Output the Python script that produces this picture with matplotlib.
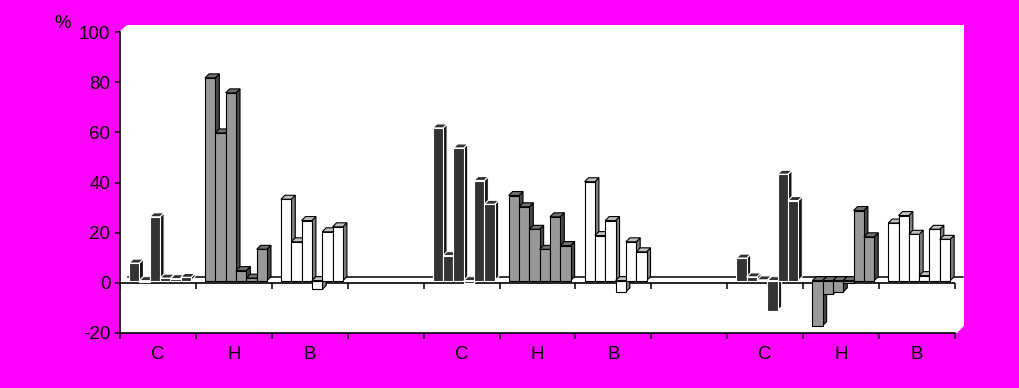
import matplotlib.pyplot as plt
from matplotlib.patches import Polygon
from matplotlib.transforms import offset_copy

plt.rcParams['font.family'] = ['Liberation Sans', 'DejaVu Sans']

# Data: three runs, each with C / H / B groups of six bars (%)
slot_labels = ['C', 'H', 'B', '', 'C', 'H', 'B', '', 'C', 'H', 'B']

c_run1 = [7, -0.5, 25.5, 1.0, 0.8, 1.3]
h_run1 = [81, 59, 75, 4, 1, 12.5]
b_run1 = [32.5, 15.5, 24, -3.5, 19.5, 21.5]

c_run2 = [61, 10, 53, -1, 40, 30.5]
h_run2 = [34, 29.5, 20.5, 12.5, 25.5, 14]
b_run2 = [39.5, 18, 24, -4.5, 15.5, 11.5]

c_run3 = [9, 1.5, 0.3, -12, 42.5, 32]
h_run3 = [-18, -5.5, -4.5, -1, 28, 17.5]
b_run3 = [23, 26, 18.5, 2, 20.5, 16.5]

yticks = [-20, 0, 20, 40, 60, 80, 100]

# colours: front, side, top, edge
styles = {
    'C': ('#333333', '#141414', '#333333', 'white'),
    'H': ('#999999', '#474747', '#6e6e6e', 'black'),
    'B': ('#ffffff', '#808080', '#c0c0c0', 'black'),
}

W, H = 1020, 388
def fx(px):
    return px / W
def fy(py):
    return (H - py) / H

fig = plt.figure(figsize=(10.2, 3.88), dpi=100, facecolor='#ff00ff')

# white backdrop (chart walls)
wall = [(120, 333), (120, 31), (127, 25), (964, 25), (964, 326), (957, 333)]
fig.patches.append(Polygon([(fx(a), fy(b)) for a, b in wall], closed=True,
                           transform=fig.transFigure, facecolor='white',
                           edgecolor='none', zorder=-1))

ax = fig.add_axes([fx(120), fy(332.7), fx(955) - fx(120), fy(32.3) - fy(332.7)])
ax.set_facecolor('none')
ax.set_zorder(1)

# bar geometry (category units / % units)
w = 0.136
start = 0.12
DX, DY = 0.053, 1.6
bar_tr = offset_copy(ax.transData, fig=fig, x=0, y=2, units='dots')

groups = [(0, c_run1, 'C'), (1, h_run1, 'H'), (2, b_run1, 'B'),
          (4, c_run2, 'C'), (5, h_run2, 'H'), (6, b_run2, 'B'),
          (8, c_run3, 'C'), (9, h_run3, 'H'), (10, b_run3, 'B')]

# floor lines
back_tr = offset_copy(ax.transData, fig=fig, x=8, y=6, units='dots')
ax.plot([0, 11], [0, 0], color='black', lw=1.1, transform=back_tr,
        clip_on=False, zorder=2)
ax.axhline(0, color='black', lw=1.2, zorder=1.5)
ax.plot(range(12), [0] * 12, ls='none', marker=3, ms=4, color='black',
        mew=1.1, clip_on=False, zorder=1.5)

z = 3
for slot, vals, key in groups:
    front, side, top, edge = styles[key]
    for i, v in enumerate(vals):
        x0 = slot + start + i * w
        x1 = x0 + w
        lo, hi = min(0, v), max(0, v)
        ax.add_patch(Polygon([(x1, lo), (x1 + DX, lo + DY), (x1 + DX, hi + DY), (x1, hi)],
                             facecolor=side, edgecolor=edge, lw=0.8,
                             transform=bar_tr, zorder=z))
        ax.add_patch(Polygon([(x0, hi), (x1, hi), (x1 + DX, hi + DY), (x0 + DX, hi + DY)],
                             facecolor=top, edgecolor=edge, lw=0.8,
                             transform=bar_tr, zorder=z))
        ax.bar(x0, v, width=w, align='edge', color=front, edgecolor=edge,
               lw=0.8, transform=bar_tr, zorder=z + 0.001)
        z += 0.01

ax.set_xlim(0, 11)
ax.set_ylim(-20, 100)

ax.spines['top'].set_visible(False)
ax.spines['right'].set_visible(False)
ax.spines['left'].set_linewidth(1.2)
ax.spines['bottom'].set_linewidth(1.2)

ax.set_yticks(yticks)
ax.set_yticklabels([str(t) for t in yticks])
ax.tick_params(axis='y', direction='out', length=3.6, width=1.1, pad=3.4,
               labelsize=13.5)

ax.set_xticks(range(12))
ax.set_xticklabels([''] * 12)
ax.set_xticks([i + 0.5 for i in range(11)], minor=True)
ax.set_xticklabels(slot_labels, minor=True)
ax.tick_params(axis='x', which='major', direction='out', length=4.3, width=1.1)
ax.tick_params(axis='x', which='minor', length=0, pad=9.5, labelsize=13.5)

fig.text(fx(63), fy(23), '%', ha='center', va='center', fontsize=13.5)

fig.savefig('out.png', dpi=100, facecolor=fig.get_facecolor())
